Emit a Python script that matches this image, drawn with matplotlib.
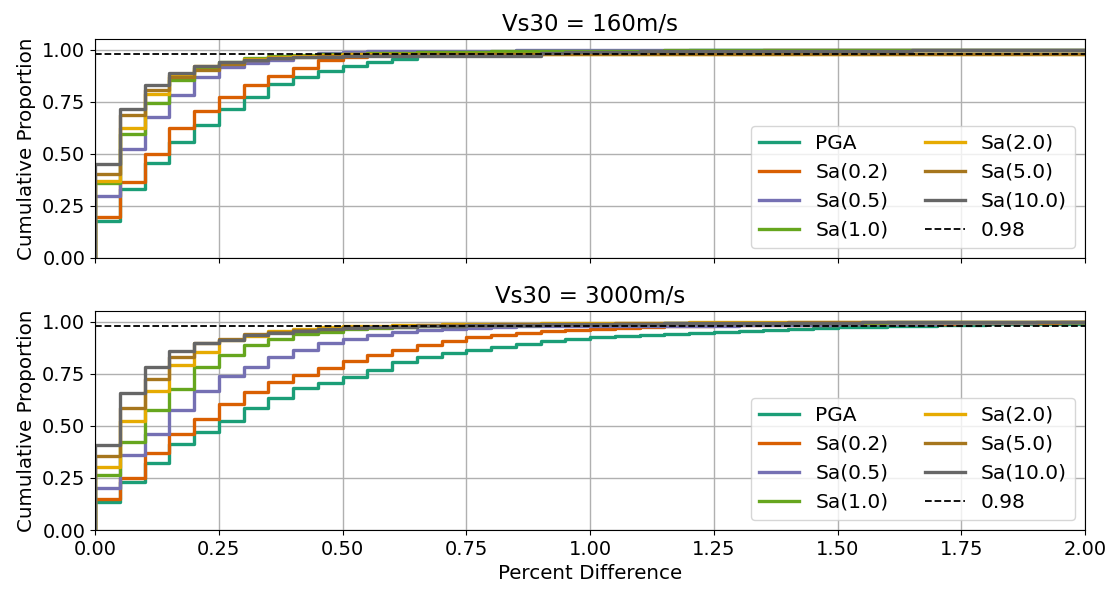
import numpy as np
import matplotlib
matplotlib.use('Agg')
import matplotlib.pyplot as plt

# bin edges of the cumulative histograms (percent difference)
bin_width = 0.05
n_bins = 40

labels = ['PGA', 'Sa(0.2)', 'Sa(0.5)', 'Sa(1.0)', 'Sa(2.0)', 'Sa(5.0)', 'Sa(10.0)']
colors = ['#1b9e77', '#d95f02', '#7570b3', '#66a61e', '#e6ab02', '#a6761d', '#666666']
threshold = 0.98

# Vs30 = 160 m/s, cumulative proportion per bin
pga_160 = [0.178, 0.333, 0.458, 0.557, 0.636, 0.716, 0.774, 0.836, 0.868, 0.900,
           0.924, 0.940, 0.957, 0.974, 0.975, 0.975, 0.976, 0.977, 0.993, 0.995,
           0.995, 0.996, 0.996, 0.996, 0.997, 0.997, 0.997, 0.997, 0.997, 0.997,
           0.998, 0.998, 0.998, 0.998, 0.998, 0.998, 0.998, 0.998, 0.998, 0.998]
sa02_160 = [0.195, 0.365, 0.501, 0.626, 0.706, 0.772, 0.829, 0.876, 0.913, 0.950,
            0.967, 0.975, 0.979, 0.981, 0.981, 0.982, 0.984, 0.986, 0.988, 0.990,
            0.991, 0.992, 0.993, 0.994, 0.995, 0.996, 0.996, 0.997, 0.997, 0.998,
            0.998, 0.998, 0.999, 0.999, 0.999, 0.999, 0.999, 1.000, 1.000, 1.000]
sa05_160 = [0.295, 0.522, 0.678, 0.782, 0.870, 0.915, 0.937, 0.953, 0.972, 0.985,
            0.990, 0.992, 0.993, 0.994, 0.995, 0.996, 0.996, 0.997, 0.997, 0.998,
            0.998, 0.998, 0.998, 0.999, 0.999, 0.999, 0.999, 0.999, 0.999, 0.999,
            1.000, 1.000, 1.000, 1.000, 1.000, 1.000, 1.000, 1.000, 1.000, 1.000]
sa10_160 = [0.362, 0.594, 0.746, 0.853, 0.911, 0.940, 0.960, 0.970, 0.975, 0.978,
            0.980, 0.982, 0.985, 0.988, 0.990, 0.991, 0.992, 0.993, 0.994, 0.995,
            0.995, 0.996, 0.996, 0.997, 0.997, 0.997, 0.998, 0.998, 0.998, 0.998,
            0.999, 0.999, 0.999, 0.999, 0.999, 0.999, 1.000, 1.000, 1.000, 1.000]
sa20_160 = [0.370, 0.622, 0.785, 0.878, 0.923, 0.935, 0.955, 0.965, 0.972, 0.976,
            0.979, 0.980, 0.980, 0.980, 0.980, 0.980, 0.980, 0.980, 0.980, 0.980,
            0.980, 0.980, 0.980, 0.980, 0.980, 0.980, 0.980, 0.980, 0.980, 0.980,
            0.980, 0.980, 0.980, 0.980, 0.980, 0.980, 0.980, 0.980, 0.980, 0.980]
sa50_160 = [0.404, 0.685, 0.806, 0.868, 0.905, 0.930, 0.950, 0.960, 0.965, 0.970,
            0.972, 0.975, 0.977, 0.978, 0.979, 0.980, 0.980, 0.980, 0.980, 0.980,
            0.980, 0.980, 0.980, 0.980, 0.980, 0.980, 0.980, 0.980, 0.980, 0.980,
            0.980, 0.980, 0.980, 0.980, 0.980, 0.981, 0.981, 0.981, 0.981, 0.981]
sa100_160 = [0.451, 0.716, 0.832, 0.888, 0.920, 0.940, 0.950, 0.958, 0.963, 0.966,
             0.968, 0.969, 0.970, 0.970, 0.971, 0.971, 0.972, 0.972, 0.985, 0.988,
             0.990, 0.991, 0.992, 0.993, 0.993, 0.994, 0.994, 0.995, 0.995, 0.995,
             0.996, 0.996, 0.996, 0.997, 0.997, 0.997, 0.998, 0.998, 0.998, 0.998]

# Vs30 = 3000 m/s
pga_3000 = [0.133, 0.229, 0.324, 0.413, 0.471, 0.526, 0.588, 0.633, 0.683, 0.708,
            0.737, 0.768, 0.806, 0.833, 0.849, 0.866, 0.881, 0.895, 0.906, 0.918,
            0.927, 0.933, 0.938, 0.944, 0.948, 0.953, 0.957, 0.962, 0.966, 0.970,
            0.973, 0.976, 0.979, 0.982, 0.984, 0.986, 0.988, 0.990, 0.991, 0.992]
sa02_3000 = [0.147, 0.248, 0.369, 0.460, 0.534, 0.606, 0.665, 0.710, 0.747, 0.780,
             0.812, 0.840, 0.865, 0.888, 0.907, 0.926, 0.938, 0.948, 0.955, 0.963,
             0.968, 0.972, 0.976, 0.979, 0.981, 0.983, 0.984, 0.985, 0.986, 0.987,
             0.988, 0.989, 0.990, 0.991, 0.992, 0.993, 0.994, 0.995, 0.996, 0.997]
sa05_3000 = [0.204, 0.359, 0.462, 0.577, 0.668, 0.742, 0.785, 0.830, 0.865, 0.900,
             0.918, 0.935, 0.952, 0.962, 0.968, 0.972, 0.976, 0.979, 0.980, 0.980,
             0.981, 0.981, 0.981, 0.982, 0.982, 0.982, 0.983, 0.983, 0.984, 0.986,
             0.988, 0.990, 0.991, 0.992, 0.993, 0.994, 0.995, 0.996, 0.997, 0.997]
sa10_3000 = [0.264, 0.421, 0.577, 0.678, 0.782, 0.841, 0.889, 0.917, 0.941, 0.953,
             0.964, 0.969, 0.974, 0.978, 0.981, 0.983, 0.985, 0.987, 0.988, 0.989,
             0.990, 0.991, 0.992, 0.993, 0.993, 0.994, 0.994, 0.995, 0.995, 0.996,
             0.996, 0.996, 0.997, 0.997, 0.997, 0.998, 0.998, 0.998, 0.998, 0.998]
sa20_3000 = [0.303, 0.522, 0.670, 0.793, 0.857, 0.913, 0.933, 0.957, 0.966, 0.974,
             0.978, 0.982, 0.985, 0.987, 0.989, 0.990, 0.991, 0.992, 0.993, 0.994,
             0.995, 0.995, 0.996, 0.996, 0.997, 0.997, 0.997, 0.998, 0.998, 0.998,
             0.998, 0.999, 0.999, 0.999, 0.999, 0.999, 0.999, 1.000, 1.000, 1.000]
sa50_3000 = [0.357, 0.585, 0.726, 0.833, 0.897, 0.920, 0.942, 0.953, 0.962, 0.968,
             0.973, 0.977, 0.980, 0.983, 0.985, 0.987, 0.988, 0.989, 0.990, 0.991,
             0.992, 0.993, 0.993, 0.994, 0.995, 0.995, 0.996, 0.996, 0.997, 0.997,
             0.997, 0.998, 0.998, 0.998, 0.998, 0.999, 0.999, 0.999, 0.999, 0.999]
sa100_3000 = [0.410, 0.657, 0.785, 0.862, 0.897, 0.915, 0.935, 0.948, 0.957, 0.964,
              0.970, 0.974, 0.977, 0.980, 0.982, 0.984, 0.986, 0.987, 0.988, 0.989,
              0.990, 0.991, 0.992, 0.993, 0.993, 0.994, 0.994, 0.995, 0.995, 0.996,
              0.996, 0.997, 0.997, 0.997, 0.998, 0.998, 0.998, 0.998, 0.999, 0.999]

panels = [
    ('Vs30 = 160m/s', [pga_160, sa02_160, sa05_160, sa10_160, sa20_160, sa50_160, sa100_160]),
    ('Vs30 = 3000m/s', [pga_3000, sa02_3000, sa05_3000, sa10_3000, sa20_3000, sa50_3000, sa100_3000]),
]

edges = np.arange(n_bins + 1) * bin_width

fig, axes = plt.subplots(2, 1, figsize=(11.13, 5.93), dpi=100, sharex=True)
fig.subplots_adjust(left=0.0854, right=0.975, top=0.9337, bottom=0.1062, hspace=0.245)

for ax, (title, series) in zip(axes, panels):
    for vals, lab, col in zip(series, labels, colors):
        x = np.r_[0.0, edges]
        y = np.r_[0.0, vals, vals[-1]]
        ax.step(x, y, where='post', color=col, lw=2.4, label=lab)
    ax.axhline(threshold, color='black', ls='--', lw=1.3, label='0.98')
    ax.set_xlim(0, 2)
    ax.set_ylim(0, 1.05)
    ax.set_yticks([0, 0.25, 0.5, 0.75, 1.0])
    ax.set_xticks(np.arange(0, 2.01, 0.25))
    ax.grid(True, color='#b0b0b0', lw=1.0)
    ax.set_axisbelow(True)
    ax.tick_params(labelsize=14)
    ax.set_title(title, fontsize=16.5)
    ax.set_ylabel('Cumulative Proportion', fontsize=14.3)
    ax.legend(loc='lower right', ncol=2, fontsize=14.5, columnspacing=1.8)

axes[1].set_xlabel('Percent Difference', fontsize=14.3)
axes[1].xaxis.set_major_formatter(matplotlib.ticker.FormatStrFormatter('%.2f'))

plt.savefig('out.png', dpi=100)
